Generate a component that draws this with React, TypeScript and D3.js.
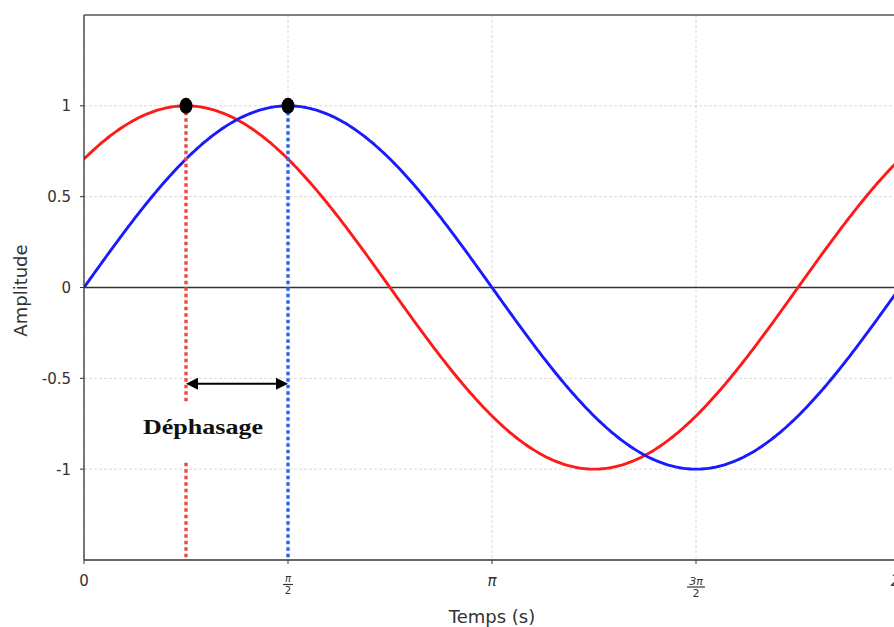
import React from "react";
import * as d3 from "d3";

// --- data ---
const xTickValues = [0, Math.PI / 2, Math.PI, (3 * Math.PI) / 2, 2 * Math.PI];
const xTickLabels = ["0", "π/2", "π", "3π/2", "2π"];
const yTickValues = [-1, -0.5, 0, 0.5, 1];
const yTickLabels = ["-1", "-0.5", "0", "0.5", "1"];
const seriesNames = ["red", "blue"];
const seriesPhases = [Math.PI / 4, 0]; // sin(t + phase)
const seriesAmplitudes = [1, 1];
const peakTimes = [Math.PI / 4, Math.PI / 2];
const sampleCount = 400;
const xDomain = [0, 2 * Math.PI];
const yDomain = [-1.5, 1.5];
const arrowY = -0.53;

const W = 894;
const H = 627;
const left = 84;
const top = 15;
const plotRight = 900;
const plotBottom = 560;

export default function App() {
  const x = d3.scaleLinear().domain(xDomain).range([left, plotRight]);
  const y = d3.scaleLinear().domain(yDomain).range([plotBottom, top]);
  const ts = d3.range(sampleCount + 1).map((i) => xDomain[0] + ((xDomain[1] - xDomain[0]) * i) / sampleCount);

  const curveColors = ["#ff1a1a", "#1a1aff"];
  const dotColors = ["#ee4b3b", "#2b62f5"];

  const tickFont = "DejaVu Sans, sans-serif";

  const renderXLabel = (lab: string, i: number) => {
    const px = x(xTickValues[i]);
    if (lab.includes("/")) {
      const [num, den] = lab.split("/");
      const big = num.length > 1;
      const fs = big ? 11 : 10;
      const hw = big ? 9 : 5;
      const lineY = big ? 587 : 584.5;
      return (
        <g key={i} fill="#333" fontFamily={tickFont}>
          <text x={px} y={lineY - 2.5} fontSize={fs} textAnchor="middle" fontStyle="italic">{num}</text>
          <line x1={px - hw} x2={px + hw} y1={lineY} y2={lineY} stroke="#333" strokeWidth={1.2} />
          <text x={px} y={lineY + fs * 0.8 + 1} fontSize={fs} textAnchor="middle">{den}</text>
        </g>
      );
    }
    return (
      <text key={i} x={px} y={586} fontSize={15} textAnchor="middle" fill="#333" fontFamily={tickFont} fontStyle={lab.includes("π") ? "italic" : "normal"}>
        {lab}
      </text>
    );
  };

  return (
    <svg width={W} height={H} style={{ position: "absolute", left: 0, top: 0, background: "#fff" }}>
      <defs>
        <clipPath id="plot">
          <rect x={left} y={top} width={plotRight - left} height={plotBottom - top} />
        </clipPath>
      </defs>
      <rect x={0} y={0} width={W} height={H} fill="#fff" />
      {/* grid */}
      <g stroke="#d0d0d0" strokeWidth={0.8} strokeDasharray="3,2">
        {xTickValues.map((v, i) => (
          <line key={"gx" + i} x1={x(v)} x2={x(v)} y1={top} y2={plotBottom} />
        ))}
        {yTickValues.map((v, i) => (
          <line key={"gy" + i} x1={left} x2={plotRight} y1={y(v)} y2={y(v)} />
        ))}
      </g>
      {/* zero line */}
      <line x1={left} x2={plotRight} y1={y(0)} y2={y(0)} stroke="#333" strokeWidth={1.3} />
      {/* curves */}
      <g clipPath="url(#plot)">
        {seriesNames.map((n, k) => (
          <path
            key={n}
            d={
              d3
                .line<number>()
                .x((t) => x(t))
                .y((t) => y(seriesAmplitudes[k] * Math.sin(t + seriesPhases[k])))(ts) || ""
            }
            fill="none"
            stroke={curveColors[k]}
            strokeWidth={2.9}
          />
        ))}
      </g>
      {/* dotted verticals */}
      {peakTimes.map((t, k) => (
        <line
          key={"v" + k}
          x1={x(t)}
          x2={x(t)}
          y1={y(1) + 6}
          y2={plotBottom}
          stroke={dotColors[k]}
          strokeWidth={3.4}
          strokeDasharray="3.5,3"
        />
      ))}
      {/* label box hiding red line */}
      <rect x={132} y={402} width={138} height={58} fill="#fff" />
      <text
        x={203}
        y={434}
        textAnchor="middle"
        fontFamily="Liberation Serif, serif"
        fontWeight="bold"
        fontSize={22}
        textLength={120}
        lengthAdjust="spacingAndGlyphs"
        fill="#111"
      >
        Déphasage
      </text>
      {/* arrow */}
      {(() => {
        const x1 = x(peakTimes[0]);
        const x2 = x(peakTimes[1]);
        const ay = y(arrowY);
        const hl = 12;
        const hw = 6;
        return (
          <g>
            <line x1={x1 + hl - 2} x2={x2 - hl + 2} y1={ay} y2={ay} stroke="#000" strokeWidth={2} />
            <path d={`M${x1},${ay} L${x1 + hl},${ay - hw} L${x1 + hl},${ay + hw} Z`} fill="#000" />
            <path d={`M${x2},${ay} L${x2 - hl},${ay - hw} L${x2 - hl},${ay + hw} Z`} fill="#000" />
          </g>
        );
      })()}
      {/* peak dots */}
      {peakTimes.map((t, k) => (
        <ellipse key={"p" + k} cx={x(t)} cy={y(1)} rx={6.5} ry={8} fill="#000" />
      ))}
      {/* spines */}
      <line x1={left} x2={plotRight} y1={top} y2={top} stroke="#555" strokeWidth={1.3} />
      <line x1={left} x2={left} y1={top} y2={plotBottom} stroke="#333" strokeWidth={1.3} />
      <line x1={left} x2={plotRight} y1={plotBottom} y2={plotBottom} stroke="#333" strokeWidth={1.3} />
      {/* ticks */}
      {yTickValues.map((v, i) => (
        <g key={"yt" + i}>
          <line x1={left - 4} x2={left} y1={y(v)} y2={y(v)} stroke="#333" strokeWidth={1} />
          <text x={71} y={y(v) + 5.5} fontSize={15} textAnchor="end" fill="#333" fontFamily={tickFont}>
            {yTickLabels[i]}
          </text>
        </g>
      ))}
      {xTickValues.map((v, i) => (
        <line key={"xt" + i} x1={x(v)} x2={x(v)} y1={plotBottom} y2={plotBottom + 4} stroke="#333" strokeWidth={1} />
      ))}
      {xTickLabels.map((lab, i) => renderXLabel(lab, i))}
      {/* axis labels */}
      <text x={492} y={623} textAnchor="middle" fontSize={18} fill="#333" fontFamily={tickFont}>
        Temps (s)
      </text>
      <text
        transform={`translate(27,${(top + plotBottom) / 2 + 3}) rotate(-90)`}
        textAnchor="middle"
        fontSize={18}
        fill="#333"
        fontFamily={tickFont}
      >
        Amplitude
      </text>
    </svg>
  );
}
